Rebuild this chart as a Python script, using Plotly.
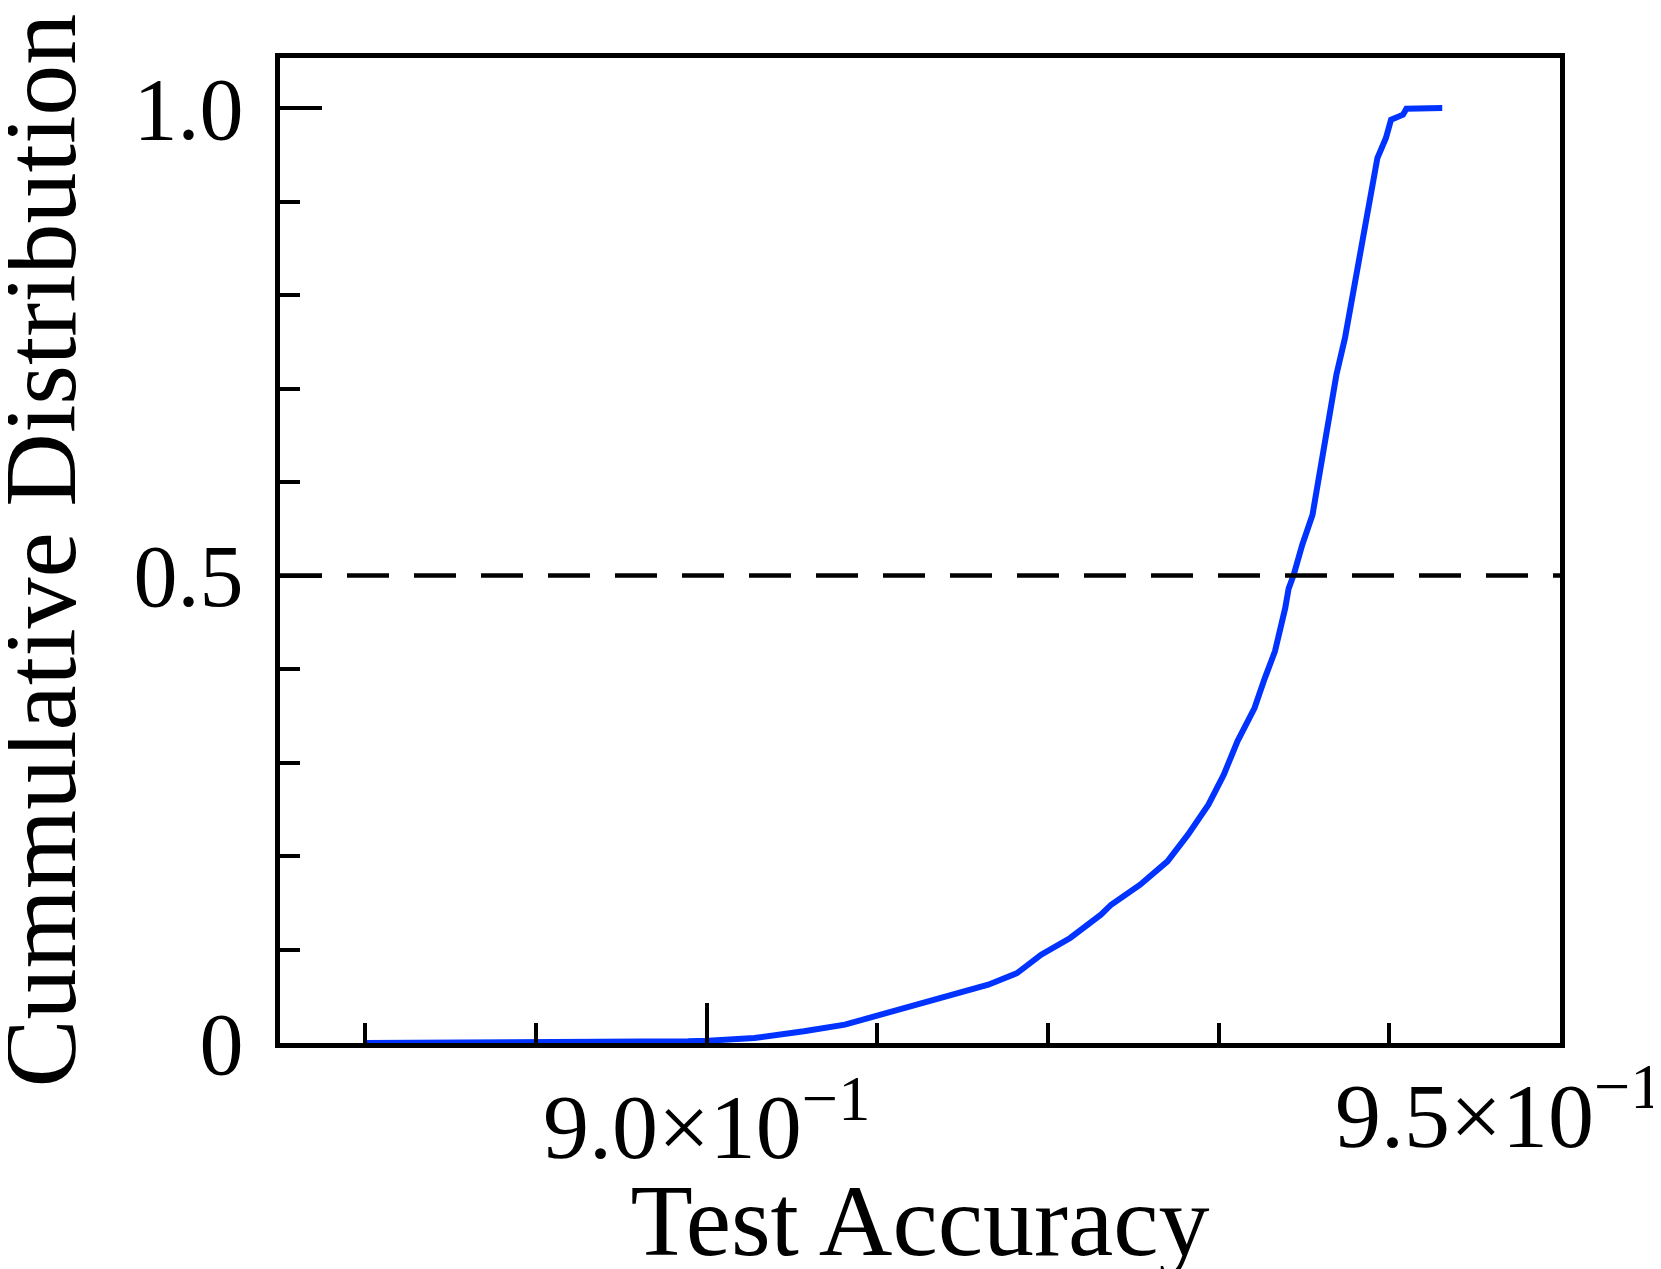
import plotly.graph_objects as go

# CDF of test accuracy
accuracy = [0.8800, 0.8900, 0.8950, 0.8989, 0.9001, 0.9028, 0.9057, 0.9081,
            0.9102, 0.9126, 0.9145, 0.9165, 0.9182, 0.9196, 0.9213, 0.9231,
            0.9237, 0.9254, 0.9270, 0.9282, 0.9294, 0.9303, 0.9311, 0.9321,
            0.9327, 0.9333, 0.9339, 0.9341, 0.9344, 0.9349, 0.9355, 0.9360,
            0.9364, 0.9369, 0.9374, 0.9378, 0.9383, 0.9386, 0.9390, 0.9393,
            0.9398, 0.9401, 0.9408, 0.9410, 0.9431]
cdf = [0.0, 0.0004, 0.0010, 0.0018, 0.0025, 0.0053, 0.0125, 0.0196,
       0.0303, 0.0428, 0.0517, 0.0624, 0.0749, 0.0944, 0.1123, 0.1372,
       0.1479, 0.1693, 0.1943, 0.2228, 0.2549, 0.2870, 0.3227, 0.3583,
       0.3900, 0.4190, 0.4652, 0.4860, 0.5009, 0.5330, 0.5650, 0.6220,
       0.6650, 0.7148, 0.7540, 0.7933, 0.8430, 0.8788, 0.9180, 0.9465,
       0.9680, 0.9875, 0.9928, 0.9993, 1.0]

x_minor = [0.88, 0.89, 0.91, 0.92, 0.93, 0.94]
y_ticks = [0, 0.5, 1.0]
y_ticktext = ["0", "0.5", "1.0"]
y_minor = [0.1, 0.2, 0.3, 0.4, 0.6, 0.7, 0.8, 0.9]

font_family = "Liberation Serif, DejaVu Serif, serif"

fig = go.Figure()
fig.add_trace(go.Scatter(x=accuracy, y=cdf, mode="lines",
                         line=dict(color="#0033ff", width=6),
                         showlegend=False))
fig.add_hline(y=0.5, line=dict(color="black", width=4.5, dash="42px,25px"))

fig.update_xaxes(
    range=[0.875, 0.95],
    tickvals=[0.9],
    ticktext=["9.0×10<sup>−1</sup>"],
    tickfont=dict(size=92),
    ticks="inside", ticklen=40, tickwidth=3.5, tickcolor="black",
    minor=dict(tickvals=x_minor, ticks="inside", ticklen=20,
               tickwidth=3.5, tickcolor="black"),
    showline=True, linecolor="black", linewidth=5, mirror=True,
    showgrid=False, zeroline=False, automargin=False,
    title=dict(text="Test Accuracy", font=dict(size=102), standoff=33),
)
fig.update_yaxes(
    range=[0, 1.0535],
    tickvals=y_ticks,
    ticktext=y_ticktext,
    tickfont=dict(size=88),
    ticklabelstandoff=14,
    ticks="inside", ticklen=42, tickwidth=3.5, tickcolor="black",
    minor=dict(tickvals=y_minor, ticks="inside", ticklen=20,
               tickwidth=3.5, tickcolor="black"),
    showline=True, linecolor="black", linewidth=5, mirror=True,
    showgrid=False, zeroline=False, automargin=False,
)

# y-axis title, placed by hand so it can sit as far left as in the original
fig.add_annotation(x=0, y=0.5, xref="paper", yref="paper",
                   text="Cummulative Distribution", textangle=-90,
                   showarrow=False, xanchor="center", yanchor="middle",
                   xshift=-240, font=dict(size=102))

fig.add_annotation(x=0.95, y=0, xref="x", yref="paper",
                   text="9.5×10<sup>−1</sup>", showarrow=False,
                   xanchor="right", yanchor="top", xshift=104, yshift=-6,
                   font=dict(size=92))

fig.update_layout(
    width=1661, height=1269,
    margin=dict(l=272, r=109, t=50, b=234),
    plot_bgcolor="white", paper_bgcolor="white",
    font=dict(family=font_family, size=88, color="black"),
)

fig.write_html("out.html")
